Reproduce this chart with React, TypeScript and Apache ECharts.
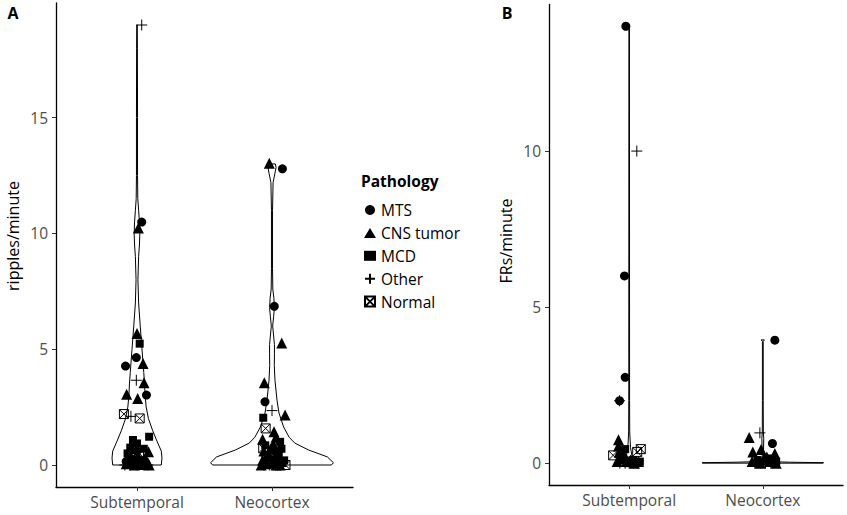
import React, { useEffect, useRef } from 'react';
import * as echarts from 'echarts';

// ---------- data ----------
const categories = ['Subtemporal', 'Neocortex'];
const pathologies = ['MTS', 'CNS tumor', 'MCD', 'Other', 'Normal'];
const ticksA = [0, 5, 10, 15];
const ticksB = [0, 5, 10];

// violin profiles: [value, half-width in category units]
const violinRipplesSub = [
  [0, 0.18], [0.3, 0.185], [0.6, 0.18], [1.0, 0.15], [1.5, 0.115], [2.0, 0.085], [2.5, 0.068],
  [3.0, 0.06], [3.5, 0.056], [4.0, 0.05], [5.0, 0.037], [6.0, 0.024], [7.0, 0.012], [8.0, 0.007],
  [9.0, 0.012], [9.5, 0.018], [10.0, 0.021], [10.5, 0.018], [11.0, 0.012], [11.5, 0.006], [12.5, 0.004],
  [15, 0.004], [18, 0.003], [19, 0.002],
];
const violinRipplesNeo = [
  [0, 0.44], [0.1, 0.455], [0.35, 0.41], [0.65, 0.27], [0.95, 0.168], [1.2, 0.127], [1.64, 0.086],
  [2.24, 0.052], [2.8, 0.037], [3.66, 0.022], [4.3, 0.017], [4.8, 0.018], [5.2, 0.018], [5.7, 0.01],
  [6.0, 0.005], [6.4, 0.012], [6.8, 0.018], [7.2, 0.014], [7.6, 0.006], [8.5, 0.004], [11, 0.004],
  [12.2, 0.008], [12.6, 0.022], [12.85, 0.03], [13.0, 0.025],
];
const violinFRsSub = [
  [0, 0.02], [0.2, 0.022], [0.5, 0.01], [1.0, 0.004], [2, 0.003], [14, 0.002],
];
const violinFRsNeo = [
  [0, 0.45], [0.015, 0.455], [0.03, 0.2], [0.05, 0.02], [0.1, 0.004], [0.8, 0.007], [1.0, 0.004],
  [2, 0.003], [3.9, 0.003], [3.95, 0.012],
];

// points: [category position incl. jitter, value]
const ripplesMTS = [
  [1.035, 10.49], [0.995, 4.64], [0.915, 4.27], [1.07, 3.02], [0.95, 0.3], [1.02, 0.1], [1.06, 0.05],
  [0.92, 0.15], [1.0, 0.6],
  [2.077, 12.79], [2.017, 6.85], [1.948, 2.73], [1.97, 0.3], [2.05, 0.1], [2.02, 0.6],
];
const ripplesCNS = [
  [1.01, 10.23], [1.0, 5.68], [1.045, 4.38], [1.052, 3.55], [0.923, 3.05], [1.005, 2.87],
  [0.92, 0.05], [0.97, 0.1], [1.04, 0.02], [1.08, 0.1], [1.085, 0.57], [1.06, 0.3], [0.94, 0.4],
  [1.09, 0.0], [0.98, 0.0], [1.03, 0.2], [0.96, 0.7], [1.01, 0.35],
  [1.98, 13.03], [2.072, 5.27], [1.943, 3.55], [2.097, 2.16], [2.015, 1.44], [1.93, 1.11],
  [1.93, 0.2], [1.96, 0.05], [2.0, 0.1], [2.03, 0.0], [2.07, 0.15], [1.98, 0.4], [2.04, 0.5],
  [1.94, 0.6], [2.01, 0.9], [2.06, 0.0], [1.92, 0.0], [2.03, 1.2], [1.99, 0.7],
];
const ripplesMCD = [
  [1.02, 5.24], [1.09, 1.22], [0.97, 1.08], [1.0, 0.93], [0.93, 0.5], [1.05, 0.7], [0.99, 0.25],
  [1.03, 0.0], [0.95, 0.75],
  [1.935, 2.04], [2.06, 1.0], [2.07, 0.7], [2.05, 0.45], [2.09, 0.2], [1.95, 0.85], [2.02, 0.25],
];
const ripplesOther = [
  [1.035, 19.0], [0.995, 3.66], [0.955, 2.1], [0.91, 0.0], [0.95, 0.0], [1.0, 0.0], [1.05, 0.0], [1.08, 0.0],
  [2.0, 2.35], [1.94, 0.0], [1.98, 0.0], [2.01, 0.0], [2.04, 0.0],
];
const ripplesNormal = [
  [0.903, 2.2], [1.02, 2.01], [1.015, 0.52], [1.03, 0.1],
  [1.953, 1.58], [1.935, 0.72], [2.1, 0.0], [1.96, 0.35],
];

const frsMTS = [
  [0.975, 14.0], [0.965, 6.0], [0.97, 2.75], [0.928, 2.0], [0.95, 0.1], [1.0, 0.05], [1.05, 0.0],
  [2.09, 3.94], [2.072, 0.63], [1.97, 0.05], [2.04, 0.1],
];
const frsCNS = [
  [0.92, 0.75], [0.92, 0.55], [0.925, 0.35], [0.95, 0.15], [0.98, 0.05], [1.01, 0.1], [1.04, 0.0],
  [0.91, 0.05], [1.07, 0.05], [0.96, 0.3],
  [1.898, 0.82], [1.925, 0.36], [1.987, 0.44], [2.09, 0.31], [1.92, 0.05], [1.95, 0.1], [1.98, 0.0],
  [2.01, 0.15], [2.05, 0.05], [2.08, 0.1], [2.1, 0.0], [2.03, 0.2],
];
const frsMCD = [
  [0.94, 0.2], [0.99, 0.0], [1.03, 0.1], [1.08, 0.05], [0.97, 0.45],
  [1.96, 0.1], [2.0, 0.05], [2.06, 0.15], [2.1, 0.05],
];
const frsOther = [
  [1.057, 10.0], [0.928, 2.0], [0.93, 0.0], [0.97, 0.0], [1.0, 0.0], [1.03, 0.0], [1.06, 0.0],
  [1.978, 0.97], [1.94, 0.0], [1.98, 0.0], [2.02, 0.0], [2.06, 0.0],
];
const frsNormal = [
  [1.087, 0.45], [1.06, 0.36], [0.88, 0.25], [1.02, 0.05],
];

// ---------- styling ----------
const FONT = 'Open Sans';
const plusPath = 'path://M0,5L10,5M5,0L5,10';
const normalPath = 'path://M0,0L10,0L10,10L0,10ZM0,0L10,10M10,0L0,10';

const symbolDefs = [
  { symbol: 'circle', size: 9, style: { color: '#000', opacity: 1 } },
  { symbol: 'triangle', size: 11, style: { color: '#000', opacity: 1 } },
  { symbol: 'rect', size: 8, style: { color: '#000', opacity: 1 } },
  { symbol: plusPath, size: 11, style: { color: 'rgba(0,0,0,0)', borderColor: '#000', borderWidth: 1, opacity: 1 } },
  { symbol: normalPath, size: 9, style: { color: 'rgba(255,255,255,0)', borderColor: '#000', borderWidth: 1, opacity: 1 } },
];

function makeXAxis(gridIndex: number) {
  return {
    type: 'value', gridIndex, min: 0.4, max: 2.6,
    axisLine: { onZero: false, lineStyle: { color: '#000', width: 1.3 } },
    axisTick: { customValues: [1, 2], length: 4, lineStyle: { color: '#333', width: 1 } },
    axisLabel: {
      customValues: [1, 2], margin: 7, color: '#4d4d4d', fontFamily: FONT, fontSize: 15.5,
      formatter: (v: number) => categories[Math.round(v) - 1] ?? '',
    },
    splitLine: { show: false },
  };
}
function makeYAxis(gridIndex: number, min: number, max: number, ticks: number[]) {
  return {
    type: 'value', gridIndex, min, max,
    axisLine: { show: true, onZero: false, lineStyle: { color: '#000', width: 1.3 } },
    axisTick: { show: true, customValues: ticks, length: 4, lineStyle: { color: '#333', width: 1 } },
    axisLabel: {
      customValues: ticks, margin: 8, color: '#4d4d4d', fontFamily: FONT, fontSize: 15.5,
      formatter: (v: number) => String(Math.round(v)),
    },
    splitLine: { show: false },
  };
}

function violinSeries(axisIndex: number, profiles: number[][][]) {
  return {
    type: 'custom', xAxisIndex: axisIndex, yAxisIndex: axisIndex, z: 1, silent: true,
    data: profiles.map((p, i) => [i + 1, p[p.length - 1][0], i]),
    encode: { x: 0, y: 1 },
    renderItem: (params: any, api: any) => {
      const cx = api.value(0);
      const prof = profiles[api.value(2)];
      const right = prof.map(([v, w]) => api.coord([cx + w, v]));
      const left = prof.slice().reverse().map(([v, w]) => api.coord([cx - w, v]));
      return {
        type: 'polygon',
        shape: { points: right.concat(left) },
        style: { fill: '#fff', stroke: '#000', lineWidth: 1 },
      };
    },
  };
}

function pointSeries(axisIndex: number, sets: number[][][]) {
  return sets.map((d, i) => ({
    type: 'scatter', name: pathologies[i], xAxisIndex: axisIndex, yAxisIndex: axisIndex, z: 3,
    symbol: symbolDefs[i].symbol, symbolSize: symbolDefs[i].size,
    itemStyle: symbolDefs[i].style, data: d,
  }));
}

export default function App() {
  const ref = useRef<HTMLDivElement>(null);
  useEffect(() => {
    if (!ref.current) return;
    const chart = echarts.init(ref.current, null, { renderer: 'svg' });
    chart.setOption({
      animation: false,
      backgroundColor: '#fff',
      grid: [
        { left: 56, top: 3, width: 297, height: 484 },
        { left: 549, top: 4.4, width: 294, height: 480.6 },
      ],
      xAxis: [makeXAxis(0), makeXAxis(1)],
      yAxis: [makeYAxis(0, -0.95, 19.95, ticksA), makeYAxis(1, -0.7, 14.7, ticksB)],
      legend: {
        orient: 'vertical', left: 359, top: 197, itemWidth: 12, itemHeight: 10, itemGap: 6.9,
        data: pathologies,
        textStyle: { fontFamily: FONT, fontSize: 15.5, color: '#000', lineHeight: 16 },
        selectedMode: false,
      },
      graphic: [
        { type: 'text', left: 361, top: 173, style: { text: 'Pathology', font: `bold 15.5px "${FONT}"`, fill: '#000' } },
        { type: 'text', x: 13, y: 13, style: { text: 'A', font: `bold 16px "${FONT}"`, fill: '#000', align: 'center', verticalAlign: 'middle' } },
        { type: 'text', x: 507, y: 13, style: { text: 'B', font: `bold 16px "${FONT}"`, fill: '#000', align: 'center', verticalAlign: 'middle' } },
        { type: 'text', x: 13, y: 236, rotation: Math.PI / 2, style: { text: 'ripples/minute', font: `16px "${FONT}"`, fill: '#000', align: 'center', verticalAlign: 'middle' } },
        { type: 'text', x: 506, y: 241, rotation: Math.PI / 2, style: { text: 'FRs/minute', font: `16px "${FONT}"`, fill: '#000', align: 'center', verticalAlign: 'middle' } },
      ],
      series: [
        violinSeries(0, [violinRipplesSub, violinRipplesNeo]),
        violinSeries(1, [violinFRsSub, violinFRsNeo]),
        ...pointSeries(0, [ripplesMTS, ripplesCNS, ripplesMCD, ripplesOther, ripplesNormal]),
        ...pointSeries(1, [frsMTS, frsCNS, frsMCD, frsOther, frsNormal]),
      ],
    });
    return () => chart.dispose();
  }, []);
  return <div ref={ref} style={{ position: 'fixed', left: 0, top: 0, width: 847, height: 515 }} />;
}
